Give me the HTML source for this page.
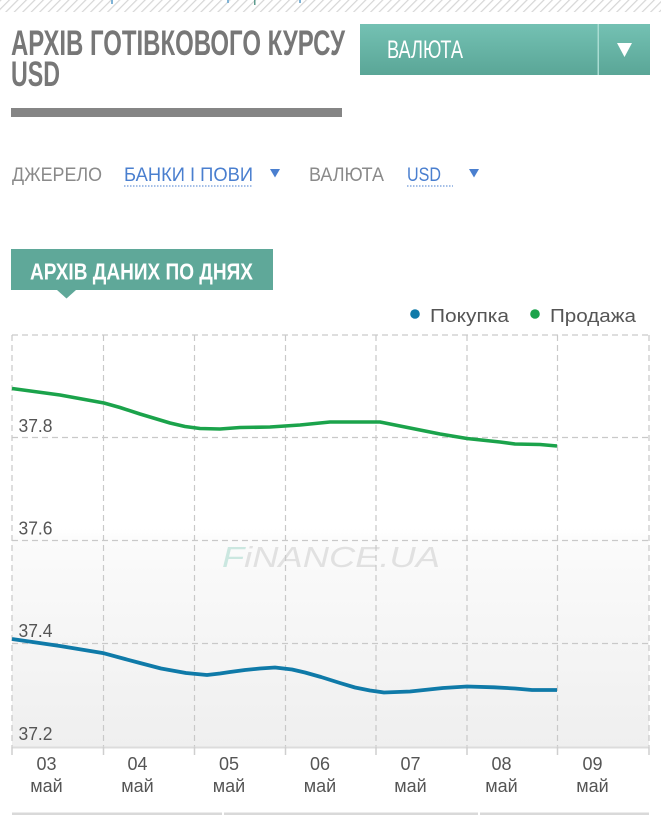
<!DOCTYPE html>
<html>
<head>
<meta charset="utf-8">
<style>
html,body{margin:0;padding:0;background:#fff;}
body{width:661px;height:815px;overflow:hidden;}
svg{display:block;}
text{font-family:"Liberation Sans","DejaVu Sans",sans-serif;}
</style>
</head>
<body>
<svg width="661" height="815" viewBox="0 0 661 815" xmlns="http://www.w3.org/2000/svg">
<defs>
<pattern id="hatch" width="6" height="6" patternUnits="userSpaceOnUse" patternTransform="rotate(45)">
<rect width="6" height="6" fill="#ffffff"/>
<line x1="0" y1="0" x2="0" y2="6" stroke="#d6d6d6" stroke-width="2.4"/>
</pattern>
<linearGradient id="btn" x1="0" y1="0" x2="0" y2="1">
<stop offset="0" stop-color="#74c1b3"/>
<stop offset="1" stop-color="#5aa697"/>
</linearGradient>
<linearGradient id="plotbg" x1="0" y1="335" x2="0" y2="747" gradientUnits="userSpaceOnUse">
<stop offset="0" stop-color="#ffffff"/>
<stop offset="0.47" stop-color="#ffffff"/>
<stop offset="0.5" stop-color="#fbfbfb"/>
<stop offset="1" stop-color="#efefef"/>
</linearGradient>
</defs>

<!-- top hatched stripe -->
<rect x="0" y="0" width="661" height="12" fill="url(#hatch)"/>
<rect x="111" y="0" width="2" height="4" fill="#7fb3d6"/>
<rect x="227" y="0" width="2" height="3" fill="#7fb3d6"/>
<rect x="254" y="0" width="1.5" height="5" fill="#5e9c8f"/>
<rect x="299" y="0" width="2" height="3" fill="#7fb3d6"/>

<!-- title -->
<text x="11" y="55" font-size="35" font-weight="bold" fill="#777777" textLength="334" lengthAdjust="spacingAndGlyphs">АРХІВ ГОТІВКОВОГО КУРСУ</text>
<text x="11" y="86" font-size="35" font-weight="bold" fill="#777777" textLength="49" lengthAdjust="spacingAndGlyphs">USD</text>
<rect x="11" y="108" width="331" height="9" fill="#858585"/>

<!-- currency button -->
<rect x="360" y="24" width="290" height="51" fill="url(#btn)"/>
<rect x="597.5" y="24" width="1.5" height="51" fill="#a9dcd2"/>
<text x="387" y="58" font-size="25" fill="#ffffff" textLength="76" lengthAdjust="spacingAndGlyphs">ВАЛЮТА</text>
<polygon points="617,43 632,43 624.5,57" fill="#ffffff"/>

<!-- filter row -->
<text x="12" y="181" font-size="19" fill="#8a8a8a" textLength="90" lengthAdjust="spacingAndGlyphs">ДЖЕРЕЛО</text>
<text x="124" y="181" font-size="19" fill="#4a7fcf" textLength="129" lengthAdjust="spacingAndGlyphs">БАНКИ І ПОВИ</text>
<line x1="124" y1="186" x2="253" y2="186" stroke="#4a7fcf" stroke-width="1" stroke-dasharray="1.5,1.5"/>
<polygon points="270,169 280,169 275,177.5" fill="#4a7fcf"/>
<text x="309" y="181" font-size="19" fill="#8a8a8a" textLength="75" lengthAdjust="spacingAndGlyphs">ВАЛЮТА</text>
<text x="407" y="181" font-size="19" fill="#4a7fcf" textLength="34" lengthAdjust="spacingAndGlyphs">USD</text>
<line x1="407" y1="186" x2="453" y2="186" stroke="#4a7fcf" stroke-width="1" stroke-dasharray="1.5,1.5"/>
<polygon points="469,169 479,169 474,177.5" fill="#4a7fcf"/>

<!-- tab -->
<rect x="11" y="249" width="262" height="41" fill="#5fa899"/>
<polygon points="57,290 76,290 66.5,298.5" fill="#5fa899"/>
<text x="30" y="279.5" font-size="23" font-weight="bold" fill="#ffffff" textLength="223" lengthAdjust="spacingAndGlyphs">АРХІВ ДАНИХ ПО ДНЯХ</text>

<!-- legend -->
<circle cx="415" cy="314" r="4.8" fill="#0f7aa8"/>
<text x="430" y="322" font-size="18.5" fill="#555555" textLength="79" lengthAdjust="spacingAndGlyphs">Покупка</text>
<circle cx="535" cy="314" r="4.8" fill="#1ba34b"/>
<text x="550" y="322" font-size="18.5" fill="#555555" textLength="86" lengthAdjust="spacingAndGlyphs">Продажа</text>

<!-- plot background -->
<rect x="12" y="335" width="637" height="412" fill="url(#plotbg)"/>

<!-- watermark -->
<text x="222" y="567" font-size="29" font-style="italic" fill="#e1e1e1" textLength="218" lengthAdjust="spacingAndGlyphs"><tspan fill="#cbe7e0">F</tspan>iNANCE.UA</text>

<!-- grid -->
<g stroke="#c9c9c9" stroke-width="1.2" stroke-dasharray="6,4" fill="none">
<line x1="12" y1="335" x2="649" y2="335"/>
<line x1="12" y1="437.5" x2="649" y2="437.5"/>
<line x1="12" y1="540.5" x2="649" y2="540.5"/>
<line x1="12" y1="643.5" x2="649" y2="643.5"/>
<line x1="12" y1="335" x2="12" y2="747"/>
<line x1="103.5" y1="335" x2="103.5" y2="747"/>
<line x1="194.5" y1="335" x2="194.5" y2="747"/>
<line x1="285.5" y1="335" x2="285.5" y2="747"/>
<line x1="376" y1="335" x2="376" y2="747"/>
<line x1="467" y1="335" x2="467" y2="747"/>
<line x1="557.5" y1="335" x2="557.5" y2="747"/>
<line x1="649" y1="335" x2="649" y2="747"/>
</g>
<!-- x axis -->
<line x1="12" y1="747.5" x2="649" y2="747.5" stroke="#dcdcdc" stroke-width="2"/>
<g stroke="#cfcfcf" stroke-width="1.5">
<line x1="12" y1="747" x2="12" y2="755"/>
<line x1="103.5" y1="747" x2="103.5" y2="755"/>
<line x1="194.5" y1="747" x2="194.5" y2="755"/>
<line x1="285.5" y1="747" x2="285.5" y2="755"/>
<line x1="376" y1="747" x2="376" y2="755"/>
<line x1="467" y1="747" x2="467" y2="755"/>
<line x1="557.5" y1="747" x2="557.5" y2="755"/>
<line x1="649" y1="747" x2="649" y2="755"/>
</g>

<!-- y labels -->
<g font-size="18" fill="#555555">
<text x="18.5" y="432" textLength="34" lengthAdjust="spacingAndGlyphs">37.8</text>
<text x="18.5" y="534.5" textLength="34" lengthAdjust="spacingAndGlyphs">37.6</text>
<text x="18.5" y="637" textLength="34" lengthAdjust="spacingAndGlyphs">37.4</text>
<text x="18.5" y="740" textLength="34" lengthAdjust="spacingAndGlyphs">37.2</text>
</g>

<!-- x labels -->
<g font-size="18" fill="#555555" text-anchor="middle">
<text x="46.5" y="770">03</text><text x="46.5" y="792">май</text>
<text x="137.5" y="770">04</text><text x="137.5" y="792">май</text>
<text x="229" y="770">05</text><text x="229" y="792">май</text>
<text x="320" y="770">06</text><text x="320" y="792">май</text>
<text x="410.5" y="770">07</text><text x="410.5" y="792">май</text>
<text x="501.5" y="770">08</text><text x="501.5" y="792">май</text>
<text x="592.5" y="770">09</text><text x="592.5" y="792">май</text>
</g>

<!-- series -->
<polyline fill="none" stroke="#1ba34b" stroke-width="3.6" stroke-linejoin="round" stroke-linecap="butt"
points="12,388.5 60,395 104,403 120,407.5 140,414 170,423 185,426.5 200,428.5 220,429 240,427.5 270,427 300,425 330,422 380,422 395,425 410,428 440,434 467,438.5 500,442 515,444 540,444.5 557,446"/>
<polyline fill="none" stroke="#0f7aa8" stroke-width="3.8" stroke-linejoin="round" stroke-linecap="butt"
points="12,639 60,646 104,653.3 125,659 140,663 161,668.5 186,673 207,675 220,673.5 230,672 245,670 260,668.5 275,667.5 292,669.5 305,672.5 321,677 340,683 355,687.5 370,690.5 384,692.5 410,691.5 443,688 467,686.5 494,687.3 515,688.5 532,690 557,690"/>

<!-- bottom bar -->
<rect x="12" y="812.5" width="210" height="2.5" fill="#d9d9d9"/>
<rect x="224" y="812.5" width="254" height="2.5" fill="#d9d9d9"/>
<rect x="480" y="812.5" width="169" height="2.5" fill="#d9d9d9"/>
</svg>
</body>
</html>
